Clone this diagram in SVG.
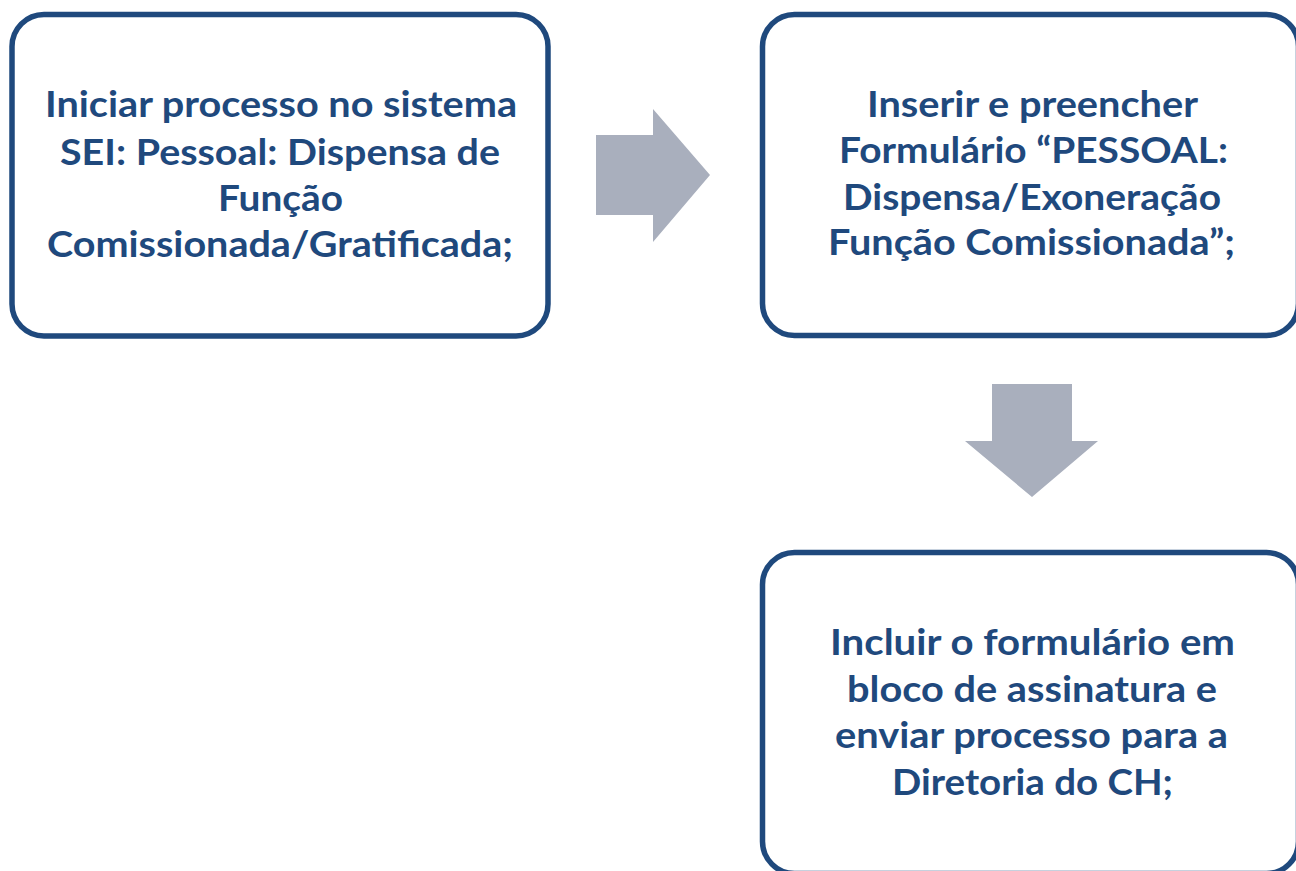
<svg xmlns="http://www.w3.org/2000/svg" width="1296" height="871" viewBox="0 0 1296 871">
<style>
.box{fill:#FFFFFF;stroke:#1F497D;stroke-width:5.5}
.t{font-family:Lato,"Open Sans","Liberation Sans",sans-serif;font-weight:bold;font-size:37px;fill:#1F497D;text-anchor:middle}
.arrow{fill:#A9AFBD}
</style>
<rect width="1296" height="871" fill="#FFFFFF"/>
<g id="node1">
<rect class="box" x="12" y="14.5" width="536" height="321.5" rx="32" ry="32"/>
<text class="t" x="281" y="117" textLength="472" lengthAdjust="spacingAndGlyphs">Iniciar processo no sistema</text>
<text class="t" x="280" y="165" textLength="440" lengthAdjust="spacingAndGlyphs">SEI: Pessoal: Dispensa de</text>
<text class="t" x="280.5" y="211" textLength="125" lengthAdjust="spacingAndGlyphs">Função</text>
<text class="t" x="280" y="257" textLength="466" lengthAdjust="spacingAndGlyphs">Comissionada/Gratificada;</text>
</g>
<g id="node2">
<rect class="box" x="762.5" y="14.5" width="536" height="321" rx="32" ry="32"/>
<text class="t" x="1032.5" y="117" textLength="331" lengthAdjust="spacingAndGlyphs">Inserir e preencher</text>
<text class="t" x="1033.5" y="163" textLength="389" lengthAdjust="spacingAndGlyphs">Formulário “PESSOAL:</text>
<text class="t" x="1032" y="210" textLength="378" lengthAdjust="spacingAndGlyphs">Dispensa/Exoneração</text>
<text class="t" x="1031.5" y="255" textLength="407" lengthAdjust="spacingAndGlyphs">Função Comissionada”;</text>
</g>
<g id="node3">
<rect class="box" x="762.5" y="552.5" width="536" height="321" rx="32" ry="32"/>
<text class="t" x="1032.5" y="655" textLength="405" lengthAdjust="spacingAndGlyphs">Incluir o formulário em</text>
<text class="t" x="1032" y="702" textLength="370" lengthAdjust="spacingAndGlyphs">bloco de assinatura e</text>
<text class="t" x="1031.5" y="748" textLength="393" lengthAdjust="spacingAndGlyphs">enviar processo para a</text>
<text class="t" x="1032.5" y="795" textLength="281" lengthAdjust="spacingAndGlyphs">Diretoria do CH;</text>
</g>
<g id="connectors">
<polygon id="arrow1" class="arrow" points="596,135 653,135 653,109 710,175 653,242 653,215 596,215"/>
<polygon id="arrow2" class="arrow" points="992,384 1072,384 1072,441 1098,441 1032,497 965,441 992,441"/>
</g>
</svg>
